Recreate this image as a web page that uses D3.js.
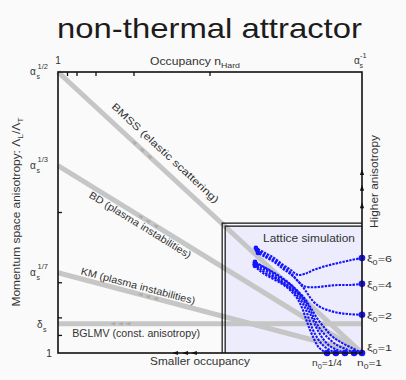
<!DOCTYPE html>
<html><head><meta charset="utf-8">
<script src="https://cdn.jsdelivr.net/npm/d3@7"></script>
<style>
html,body{margin:0;padding:0;background:#fafafa;}
svg{display:block;}
text{font-family:"Liberation Sans",Arial,Helvetica,sans-serif;fill:#333;}
</style></head><body>
<svg id="chart" width="406" height="380"></svg>
<script>
// Axes: occupancy n = alpha_s^(-ox), anisotropy = alpha_s^(ay)
// Theory trajectories: anisotropy exponent at n = 1 and at n = 1/alpha_s
const regimeLabels = ["BMSS (elastic scattering)", "BD (plasma instabilities)", "KM (plasma instabilities)", "BGLMV (const. anisotropy)"];
const deltaS = 0.052;
const regimeStart = [1/2, 1/3, 1/7, deltaS];
const regimeEnd = [0, 0, 0, deltaS];
const regimeLabelAt = [0.323, 0.283, 0.257, 0.257];
const regimeLabelOffset = [10, -10.7, 4.3, -13];
const regimeLabelLength = [142, 118, 118, 128];
const regimeArrowAt = [[0.25, 0.275, 0.30], [0.27, 0.295, 0.32], [0.27, 0.295, 0.32], [0.18, 0.205, 0.23]];

const occTicks = [1/32, 1/16, 1/8, 1/4, 1/2];
const anisoTicks = [1/32, 1/16, 1/8, 1/4];
const anisoPowerValues = [1/2, 1/3, 1/7];
const anisoPowerLabels = ["1/2", "1/3", "1/7"];
const anisoArrows = [0.322, 0.294, 0.263];
const occArrows = [0.385, 0.418, 0.447];

// Lattice simulation window (lower-left corner of the occupancy/anisotropy region)
const latticeOcc = 0.54, latticeAniso = 0.231;

// Lattice trajectories [occupancy exponent, anisotropy exponent], from initial condition onwards
const xi6 = [[1.000,0.169],[0.961,0.165],[0.921,0.160],[0.882,0.155],[0.842,0.148],[0.813,0.141],[0.789,0.139],[0.763,0.149],[0.737,0.158],[0.711,0.169],[0.681,0.178],[0.651,0.187]];
const xi4 = [[1.000,0.123],[0.961,0.121],[0.921,0.121],[0.882,0.119],[0.842,0.117],[0.809,0.119],[0.786,0.130],[0.763,0.144],[0.737,0.155],[0.711,0.165],[0.681,0.174],[0.655,0.183]];
const xi2 = [[1.000,0.068],[0.961,0.069],[0.928,0.071],[0.895,0.075],[0.862,0.082],[0.836,0.094],[0.813,0.112],[0.789,0.128],[0.763,0.141],[0.737,0.151],[0.711,0.162],[0.681,0.171],[0.658,0.178]];
const xi1n100 = [[1.000,0],[0.967,0.009],[0.934,0.018],[0.901,0.030],[0.875,0.046],[0.852,0.062],[0.832,0.080],[0.813,0.096],[0.789,0.110],[0.763,0.123],[0.734,0.135],[0.707,0.144],[0.678,0.153],[0.648,0.162]];
const xi1n071 = [[0.974,0],[0.947,0.007],[0.918,0.014],[0.888,0.027],[0.862,0.043],[0.842,0.062],[0.826,0.082],[0.806,0.098],[0.783,0.112],[0.757,0.125],[0.727,0.135],[0.697,0.146],[0.668,0.155],[0.648,0.160]];
const xi1n050 = [[0.944,0],[0.921,0.005],[0.895,0.012],[0.872,0.025],[0.852,0.043],[0.836,0.062],[0.819,0.082],[0.799,0.100],[0.776,0.112],[0.750,0.123],[0.720,0.133],[0.691,0.144],[0.664,0.153],[0.648,0.158]];
const xi1n035 = [[0.914,0],[0.895,0.005],[0.875,0.012],[0.855,0.025],[0.839,0.041],[0.826,0.060],[0.813,0.080],[0.793,0.098],[0.770,0.112],[0.743,0.123],[0.714,0.133],[0.684,0.142],[0.661,0.151],[0.648,0.157]];
const xi1n025 = [[0.885,0],[0.868,0.005],[0.855,0.012],[0.842,0.025],[0.829,0.041],[0.816,0.060],[0.803,0.080],[0.786,0.098],[0.763,0.112],[0.737,0.123],[0.707,0.132],[0.678,0.141],[0.658,0.149],[0.648,0.155]];

const xiLabels = ["6", "4", "2", "1"];
const xiTracks = [xi6, xi4, xi2, xi1n100];
const allTracks = [xi6, xi4, xi2, xi1n100, xi1n071, xi1n050, xi1n035, xi1n025];

const svg = d3.select("#chart");
const x = d3.scaleLinear().domain([0, 1]).range([58, 362]);
const y = d3.scaleLinear().domain([0, 0.5]).range([353, 72]);

// text helper: parts with optional sub/superscripts, stretched to a given length
function fitLabel(parent, o) {
  const size = o.size || 10;
  const g = parent.append("g").attr("transform", `translate(${o.x},${o.y}) rotate(${o.angle || 0})`);
  const t = g.append("text").attr("text-anchor", o.anchor || "middle").attr("font-size", size);
  if (o.fill) t.style("fill", o.fill);
  let shift = 0;
  o.parts.forEach(p => {
    const want = p.sub ? size * 0.3 : p.sup ? -size * 0.4 : 0;
    const ts = t.append("tspan").text(p.t).attr("dy", want - shift);
    if (p.sub || p.sup) ts.attr("font-size", size * 0.72);
    shift = want;
  });
  if (o.len) {
    const w = t.node().getBBox().width;
    t.attr("transform", `scale(${o.len / w},1)`);
  }
  return t;
}

function arrowHead(parent, cx, cy, ux, uy, s, fill) {
  const nx = -uy, ny = ux;
  const pts = [[cx + s * ux, cy + s * uy], [cx - s * ux + 0.7 * s * nx, cy - s * uy + 0.7 * s * ny], [cx - s * ux - 0.7 * s * nx, cy - s * uy - 0.7 * s * ny]];
  parent.append("path").attr("d", "M" + pts.map(p => p.join(",")).join("L") + "Z").attr("fill", fill);
}

// title
fitLabel(svg, {x: 209.5, y: 38, size: 27, len: 305, parts: [{t: "non-thermal attractor"}], fill: "#1c1c1c"});

// lattice window background
const lx = x(latticeOcc), ly = y(latticeAniso);
svg.append("rect").attr("x", lx + 3).attr("y", ly + 3).attr("width", x(1) - lx - 3).attr("height", y(0) - ly - 3).attr("fill", "#ececfc");

// theory lines
const plot = svg.append("g");
regimeStart.forEach((s, i) => {
  plot.append("line").attr("x1", x(0)).attr("y1", y(s)).attr("x2", x(1)).attr("y2", y(regimeEnd[i]))
    .attr("stroke", "#c6c6c6").attr("stroke-width", 5);
});
regimeStart.forEach((s, i) => {
  const e = regimeEnd[i];
  const dx = x(1) - x(0), dy = y(e) - y(s);
  const L = Math.hypot(dx, dy), ux = dx / L, uy = dy / L;
  regimeArrowAt[i].forEach(t => {
    arrowHead(plot, x(t), y(s + (e - s) * t), -ux, -uy, 2.6, "#acacac");
  });
  const t = regimeLabelAt[i];
  const angle = Math.atan2(dy, dx);
  const off = regimeLabelOffset[i];
  const px = x(t) + off * Math.sin(angle), py = y(s + (e - s) * t) - off * Math.cos(angle);
  fitLabel(plot, {x: px, y: py, angle: angle * 180 / Math.PI, size: 10, len: regimeLabelLength[i], parts: [{t: regimeLabels[i]}]});
});

// lattice window outlines
svg.append("path").attr("d", `M${lx},${y(0)}V${ly}H${x(1)}`).attr("fill", "none").attr("stroke", "#111").attr("stroke-width", 1.2);
svg.append("path").attr("d", `M${lx + 3},${y(0)}V${ly + 3}H${x(1)}`).attr("fill", "none").attr("stroke", "#111").attr("stroke-width", 1.2);
fitLabel(svg, {x: 309, y: 242, size: 10, len: 92, parts: [{t: "Lattice simulation"}]});

// lattice trajectories
const line = d3.line().x(d => x(d[0])).y(d => y(d[1])).curve(d3.curveCatmullRom);
const traj = svg.append("g");
allTracks.forEach(tr => {
  traj.append("path").attr("d", line(tr)).attr("fill", "none").attr("stroke", "#1414ff")
    .attr("stroke-width", 2.1).attr("stroke-dasharray", "2.4,1.1");
});
allTracks.forEach(tr => {
  traj.append("circle").attr("cx", x(tr[0][0])).attr("cy", y(tr[0][1])).attr("r", 3.3).attr("fill", "#1414ff");
  const last = tr[tr.length - 1];
  traj.append("circle").attr("cx", x(last[0])).attr("cy", y(last[1])).attr("r", 2.4).attr("fill", "#1414ff");
});

// frame and ticks
svg.append("rect").attr("x", x(0)).attr("y", y(0.5)).attr("width", x(1) - x(0)).attr("height", y(0) - y(0.5))
  .attr("fill", "none").attr("stroke", "#111").attr("stroke-width", 1.6);
occTicks.forEach(v => svg.append("line").attr("x1", x(v)).attr("x2", x(v)).attr("y1", y(0.5)).attr("y2", y(0.5) + 4).attr("stroke", "#111").attr("stroke-width", 1.3));
anisoTicks.forEach(v => svg.append("line").attr("x1", x(0)).attr("x2", x(0) + 4).attr("y1", y(v)).attr("y2", y(v)).attr("stroke", "#111").attr("stroke-width", 1.3));
anisoArrows.forEach(v => arrowHead(svg, x(1), y(v), 0, -1, 3, "#111"));
occArrows.forEach(v => arrowHead(svg, x(v), y(0), -1, 0, 3, "#111"));

// axis labels
fitLabel(svg, {x: 195, y: 65, size: 10, len: 90, parts: [{t: "Occupancy n"}, {t: "Hard", sub: true}]});
fitLabel(svg, {x: 200, y: 365, size: 10, len: 100, parts: [{t: "Smaller occupancy"}]});
fitLabel(svg, {x: 378, y: 181.5, angle: -90, size: 10, len: 93, parts: [{t: "Higher anisotropy"}]});
fitLabel(svg, {x: 19.5, y: 212, angle: -90, size: 10, len: 190,
  parts: [{t: "Momentum space anisotropy: Λ"}, {t: "L", sub: true}, {t: "/Λ"}, {t: "T", sub: true}]});

// tick value labels
function powerLabel(xa, yc, sup, subX, supX) {
  svg.append("text").attr("x", xa).attr("y", yc + 3).attr("font-size", 10).text("α");
  svg.append("text").attr("x", xa + (subX || 6.5)).attr("y", yc + 7).attr("font-size", 7).text("s");
  svg.append("text").attr("x", xa + (supX || 7.5)).attr("y", yc - 3.5).attr("font-size", 7.5).text(sup);
}
anisoPowerValues.forEach((v, i) => powerLabel(30, y(v), anisoPowerLabels[i]));
svg.append("text").attr("x", 37).attr("y", y(deltaS) + 4).attr("font-size", 10).text("δ");
svg.append("text").attr("x", 43).attr("y", y(deltaS) + 8).attr("font-size", 7).text("s");
svg.append("text").attr("x", 49).attr("y", y(0) + 3.5).attr("font-size", 10).attr("text-anchor", "middle").text("1");
svg.append("text").attr("x", 58).attr("y", 64).attr("font-size", 10).attr("text-anchor", "middle").text("1");
powerLabel(354, 61, "-1", 5.5, 6);

xiTracks.forEach((tr, i) => {
  fitLabel(svg, {x: 367, y: Math.min(y(tr[0][1]) + 4, y(0) - 2), anchor: "start", size: 9.5, len: 25,
    parts: [{t: "ξ"}, {t: "0", sub: true}, {t: "=" + xiLabels[i]}]});
});
fitLabel(svg, {x: x(xi1n025[0][0]), y: 366, size: 9.5, len: 30, parts: [{t: "n"}, {t: "0", sub: true}, {t: "=1/4"}]});
fitLabel(svg, {x: 369.5, y: 366, size: 9.5, len: 25, parts: [{t: "n"}, {t: "0", sub: true}, {t: "=1"}]});
</script>
</body></html>
